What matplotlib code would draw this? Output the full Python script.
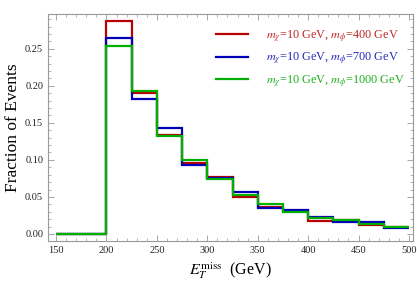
import matplotlib
matplotlib.use("Agg")
import matplotlib.pyplot as plt
from matplotlib.ticker import MultipleLocator, FormatStrFormatter

plt.rcParams['font.family'] = ['Liberation Serif', 'DejaVu Serif']
plt.rcParams['mathtext.fontset'] = 'stix'

edges = [150, 175, 200, 225, 250, 275, 300, 325, 350, 375, 400, 425, 450, 475, 500]
frac_400 = [0, 0, 0.287, 0.191, 0.134, 0.096, 0.0766, 0.0505, 0.037, 0.031, 0.018, 0.019, 0.0122, 0.009]
frac_700 = [0, 0, 0.2645, 0.182, 0.143, 0.093, 0.0752, 0.0568, 0.0356, 0.033, 0.0234, 0.0166, 0.0166, 0.0077]
frac_1000 = [0, 0, 0.254, 0.1937, 0.132, 0.100, 0.0748, 0.052, 0.0405, 0.030, 0.021, 0.0193, 0.0135, 0.0099]
labels = [r"$m_\chi$=10 GeV, $m_\phi$=400 GeV",
          r"$m_\chi$=10 GeV, $m_\phi$=700 GeV",
          r"$m_\chi$=10 GeV, $m_\phi$=1000 GeV"]
colors = ['#B80000', '#0000B8', '#00B000']
text_colors = ['#C02828', '#2828C0', '#20B020']

fig = plt.figure(figsize=(4.17, 2.88), dpi=100)
ax = fig.add_axes([48/417, 1-241/288, (413-48)/417, (241-14)/288])

for vals, c, lab in zip([frac_400, frac_700, frac_1000], colors, labels):
    ax.stairs(vals, edges, baseline=None, color=c, lw=1.6, label=lab)

ax.set_xlim(142, 504)
ax.set_ylim(-0.0095, 0.297)
ax.xaxis.set_major_locator(MultipleLocator(50))
ax.xaxis.set_minor_locator(MultipleLocator(10))
ax.yaxis.set_major_locator(MultipleLocator(0.05))
ax.yaxis.set_minor_locator(MultipleLocator(0.01))
ax.yaxis.set_major_formatter(FormatStrFormatter('%.2f'))
ax.tick_params(which='both', direction='in', top=True, right=True, color='#999999', labelsize=7.5, labelcolor='#222222')
ax.tick_params(which='major', length=4, width=0.6)
ax.tick_params(which='minor', length=2, width=0.5)
for s in ax.spines.values():
    s.set_color('#999999')
    s.set_linewidth(0.8)

ax.set_xlabel(r"$E_T^{\mathrm{miss}}$  (GeV)", fontsize=11.5, labelpad=4)
ax.set_ylabel("Fraction of Events", fontsize=12.5, labelpad=3)

leg = ax.legend(loc='upper left', bbox_to_anchor=(0.46, 0.94), frameon=False,
                borderpad=0, borderaxespad=0,
                fontsize=8.8, handlelength=2.6, handletextpad=1.5, labelspacing=0.55)
for t, c in zip(leg.get_texts(), text_colors):
    t.set_color(c)

fig.savefig('out.png', dpi=100)
